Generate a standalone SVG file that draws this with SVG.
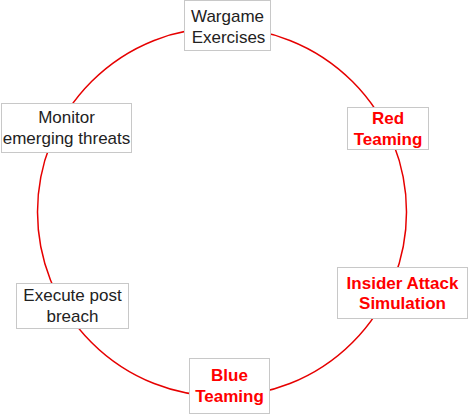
<svg xmlns="http://www.w3.org/2000/svg" width="469" height="415" viewBox="0 0 469 415">
<style>
.box{fill:#ffffff;stroke:#c8c8c8;stroke-width:1}
.t{font-family:"Liberation Sans",Arial,sans-serif;font-size:17px;text-anchor:middle;fill:#222222}
.r{font-weight:bold;fill:#ff0000}
.ring{fill:none;stroke:#e60000;stroke-width:1.5}
</style>
<rect width="469" height="415" fill="#ffffff"/>
<g id="connectors">
<circle class="ring" cx="222" cy="212" r="184.5"/>
</g>
<g id="wargame">
<rect class="box" x="184.5" y="0.5" width="86" height="50"/>
<text class="t" x="227.5" y="21.5">Wargame</text>
<text class="t" x="228.5" y="42.5">Exercises</text>
</g>
<g id="red-teaming">
<rect class="box" x="347.5" y="107.5" width="81" height="42"/>
<text class="t r" x="388" y="124">Red</text>
<text class="t r" x="388" y="144.5">Teaming</text>
</g>
<g id="insider-attack">
<rect class="box" x="337.5" y="267.5" width="130" height="51"/>
<text class="t r" x="402.5" y="289">Insider Attack</text>
<text class="t r" x="402.5" y="309">Simulation</text>
</g>
<g id="blue-teaming">
<rect class="box" x="189.5" y="358.5" width="80" height="55"/>
<text class="t r" x="229.5" y="381">Blue</text>
<text class="t r" x="229.5" y="402">Teaming</text>
</g>
<g id="execute-post-breach">
<rect class="box" x="16.5" y="283.5" width="112" height="45"/>
<text class="t" x="72.5" y="301">Execute post</text>
<text class="t" x="72.5" y="322">breach</text>
</g>
<g id="monitor">
<rect class="box" x="1.5" y="103.5" width="130" height="49"/>
<text class="t" x="66.5" y="123">Monitor</text>
<text class="t" x="66.5" y="143.5">emerging threats</text>
</g>
</svg>
